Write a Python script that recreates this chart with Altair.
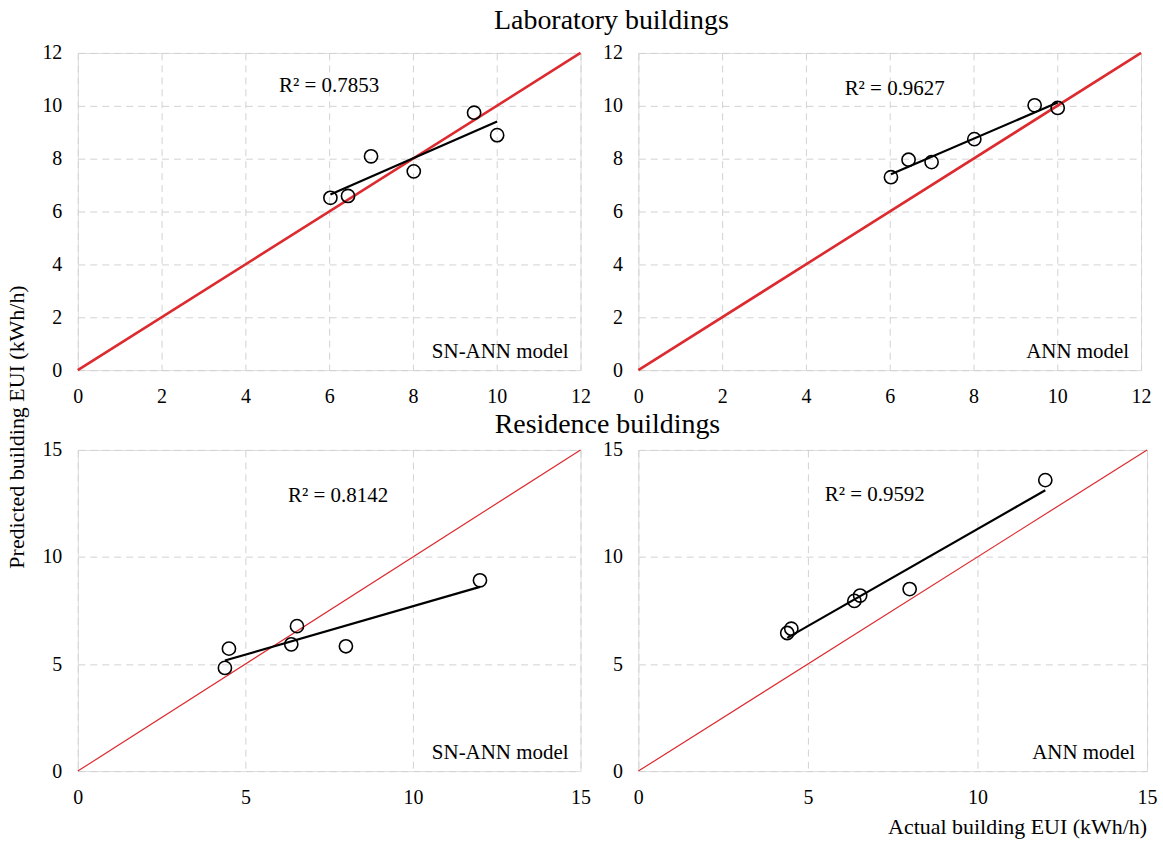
import altair as alt
import pandas as pd

# ---- data ----
lab_actual = [6.03, 6.45, 7.0, 8.02, 9.46, 10.01]
lab_sn_ann = [6.52, 6.59, 8.09, 7.52, 9.74, 8.89]
lab_ann = [7.30, 7.96, 7.87, 8.74, 10.02, 9.92]

res_actual = [4.39, 4.51, 6.37, 6.54, 8.0, 12.0]
res_sn_ann = [4.82, 5.72, 5.92, 6.77, 5.83, 8.91]
res_ann = [6.45, 6.65, 7.95, 8.20, 8.50, 13.59]

lab_ticks = [0, 2, 4, 6, 8, 10, 12]
res_ticks = [0, 5, 10, 15]
lab_diag = [0, 12]
res_diag = [0, 15]

r2_labels = ["R² = 0.7853", "R² = 0.9627", "R² = 0.8142", "R² = 0.9592"]
model_labels = ["SN-ANN model", "ANN model", "SN-ANN model", "ANN model"]
titles = ["Laboratory  buildings", "Residence buildings"]
x_title = "Actual building EUI (kWh/h)"
y_title = "Predicted building EUI (kWh/h)"

FONT = "Liberation Serif"
RED = "#dc2a2e"


def text_layer(txt, x, y, size, align="center", angle=0):
    return (
        alt.Chart(pd.DataFrame({"t": [txt]}))
        .mark_text(font=FONT, fontSize=size, align=align, baseline="middle",
                   angle=angle, color="black")
        .encode(x=alt.value(x), y=alt.value(y), text="t:N")
    )


def panel(actual, pred, diag, ticks, r2, model, w, h, red_w, r2_pos, extra=None):
    maxv = diag[-1]
    axis = dict(values=ticks, title=None, grid=True, ticks=False, domain=False,
                labelFont=FONT, labelFontSize=20, labelColor="black",
                labelPadding=16, labelFlush=False, labelOverlap=False,
                gridDash=[7, 5], gridColor="#d2d2d2", gridWidth=1)
    xenc = alt.X("actual:Q", scale=alt.Scale(domain=[0, maxv], nice=False, zero=True),
                 axis=alt.Axis(**axis))
    yenc = alt.Y("pred:Q", scale=alt.Scale(domain=[0, maxv], nice=False, zero=True),
                 axis=alt.Axis(**axis))
    df = pd.DataFrame({"actual": actual, "pred": pred})
    ddf = pd.DataFrame({"actual": diag, "pred": diag})

    diag_l = alt.Chart(ddf).mark_line(color=RED, strokeWidth=red_w).encode(x=xenc, y=yenc)
    reg = (
        alt.Chart(df)
        .transform_regression("actual", "pred")
        .mark_line(color="black", strokeWidth=2.2)
        .encode(x=xenc, y=yenc)
    )
    pts = (
        alt.Chart(df)
        .mark_point(shape="circle", filled=False, color="black", size=175, strokeWidth=1.6,
                    opacity=1)
        .encode(x=xenc, y=yenc)
    )
    layers = [diag_l, reg, pts,
              text_layer(r2, r2_pos[0], r2_pos[1], 21),
              text_layer(model, w - 12, h - 18, 21, align="right")]
    if extra:
        layers += extra
    return alt.layer(*layers).properties(width=w, height=h)


p1 = panel(lab_actual, lab_sn_ann, lab_diag, lab_ticks, r2_labels[0], model_labels[0],
           504, 318, 2.6, (252, 33),
           extra=[text_layer(titles[0], 535, -32, 28)])
p2 = panel(lab_actual, lab_ann, lab_diag, lab_ticks, r2_labels[1], model_labels[1],
           504, 318, 2.6, (257, 36))
p3 = panel(res_actual, res_sn_ann, res_diag, res_ticks, r2_labels[2], model_labels[2],
           504, 322, 1.2, (261, 46),
           extra=[text_layer(titles[1], 531, -25, 28),
                  text_layer(y_title, -61, -23, 22, angle=270)])
p4 = panel(res_actual, res_ann, res_diag, res_ticks, r2_labels[3], model_labels[3],
           510, 322, 1.2, (237, 45),
           extra=[text_layer(x_title, 510, 378, 22, align="right")])

chart = (
    alt.concat(p1, p2, p3, p4, columns=2, spacing={"row": 80, "column": 58}, bounds="flush")
    .configure_view(stroke="#333333", strokeWidth=1.5)
    .configure(background="white", font=FONT)
)

chart.save("out.html", embed_options={"renderer": "svg", "actions": False})
